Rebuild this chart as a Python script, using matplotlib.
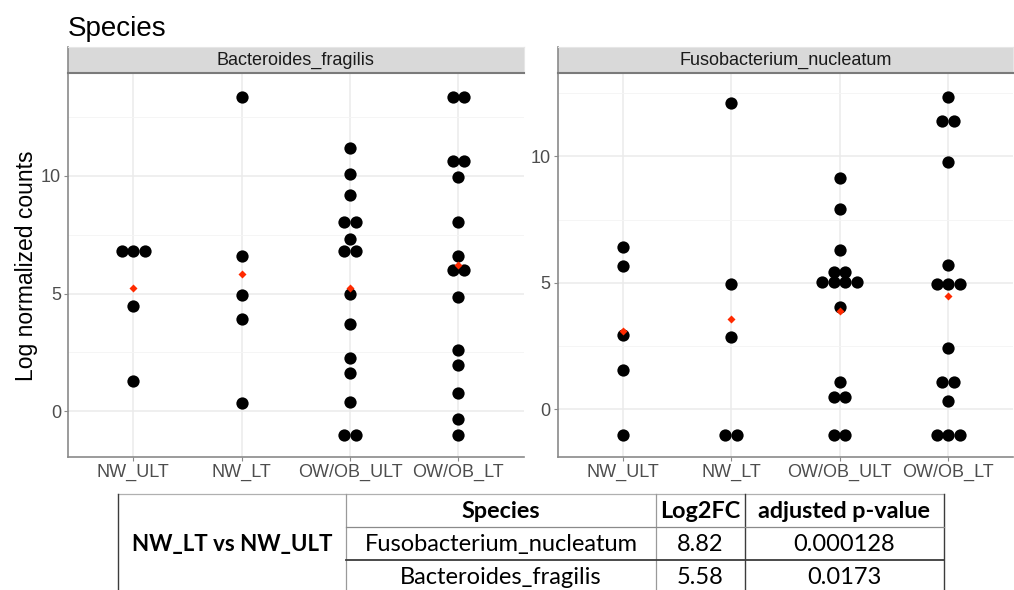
import numpy as np
import matplotlib.pyplot as plt
from matplotlib.lines import Line2D

plt.rcParams['font.family'] = ['Liberation Sans', 'DejaVu Sans']

groups = ['NW_ULT', 'NW_LT', 'OW/OB_ULT', 'OW/OB_LT']

# Bacteroides_fragilis, log normalized counts per sample
bf_nw_ult = [6.81, 6.81, 6.81, 4.48, 1.26]
bf_nw_lt = [13.35, 6.61, 4.95, 3.93, 0.33]
bf_ow_ult = [11.18, 10.10, 9.18, 8.03, 8.03, 7.32, 6.81, 6.81, 4.96, 3.69, 2.27, 1.63, 0.37, -1.02, -1.02]
bf_ow_lt = [13.35, 13.35, 10.65, 10.65, 9.96, 8.06, 6.60, 6.00, 6.00, 4.84, 2.60, 1.96, 0.78, -0.33, -1.02]

# Fusobacterium_nucleatum
fn_nw_ult = [6.40, 5.66, 2.92, 1.56, -1.02]
fn_nw_lt = [12.12, 4.96, 2.84, -1.02, -1.02]
fn_ow_ult = [9.14, 7.93, 6.31, 5.44, 5.44, 5.02, 5.02, 5.02, 5.02, 4.04, 1.06, 0.49, 0.49, -1.02, -1.02]
fn_ow_lt = [12.35, 11.41, 11.41, 9.76, 5.69, 4.96, 4.96, 4.96, 2.41, 1.07, 1.07, 0.33, -1.02, -1.02, -1.02]

panels = [
    ('Bacteroides_fragilis', [bf_nw_ult, bf_nw_lt, bf_ow_ult, bf_ow_lt], (-1.97, 14.37)),
    ('Fusobacterium_nucleatum', [fn_nw_ult, fn_nw_lt, fn_ow_ult, fn_ow_lt], (-1.90, 13.28)),
]

# table
tbl_comparison = 'NW_LT vs NW_ULT'
tbl_header = ['Species', 'Log2FC', 'adjusted p-value']
tbl_species = ['Fusobacterium_nucleatum', 'Bacteroides_fragilis']
tbl_log2fc = ['8.82', '5.58']
tbl_padj = ['0.000128', '0.0173']

W, H = 1014, 590
fig = plt.figure(figsize=(W / 100, H / 100), dpi=100)

axis_col = '#8a8a8a'
tick_col = '#4d4d4d'
grid_col = '#ebebeb'
dx = 0.106  # horizontal stacking step of dots (x units)

lefts = [68, 557.7]
pw = 455.5
ptop, pbot = 73.3, 457.3
strip_top = 47

for (name, data, ylim), left in zip(panels, lefts):
    ax = fig.add_axes([left / W, 1 - pbot / H, pw / W, (pbot - ptop) / H])
    ax.set_xlim(0.4, 4.6)
    ax.set_ylim(*ylim)
    ax.set_xticks(range(1, 5))
    ax.set_xticklabels(groups)
    ax.set_yticks([0, 5, 10])
    ax.set_yticks([2.5, 7.5, 12.5], minor=True)
    ax.grid(True, which='major', color=grid_col, lw=1.1)
    ax.grid(True, which='minor', axis='y', color='#f4f4f4', lw=0.6)
    ax.set_axisbelow(True)
    for s in ['top', 'right']:
        ax.spines[s].set_visible(False)
    for s in ['left', 'bottom']:
        ax.spines[s].set_color(axis_col)
        ax.spines[s].set_linewidth(1.2)
    ax.tick_params(which='major', length=3, color=axis_col, labelcolor=tick_col,
                   labelsize=13, pad=2)
    ax.tick_params(which='minor', length=0)

    for i, vals in enumerate(data):
        xc = i + 1
        uniq, counts = np.unique(vals, return_counts=True)
        for v, n in zip(uniq, counts):
            offs = (np.arange(n) - (n - 1) / 2) * dx
            ax.scatter(xc + offs, [v] * n, s=78, color='black', lw=0, zorder=3)
        ax.plot(xc, np.mean(vals), marker='D', ms=4.2, color='#ff2a00',
                mec='none', zorder=4)

    sax = fig.add_axes([left / W, 1 - ptop / H, pw / W, (ptop - strip_top) / H])
    sax.set_facecolor('#d9d9d9')
    sax.set_xticks([])
    sax.set_yticks([])
    for s in ['top', 'right']:
        sax.spines[s].set_color('#e6e6e6')
    sax.spines['left'].set_color(axis_col)
    sax.spines['left'].set_linewidth(1.2)
    sax.spines['bottom'].set_color('#7a7a7a')
    sax.spines['bottom'].set_linewidth(1.5)
    sax.text(0.5, 0.5, name, ha='center', va='center', fontsize=13,
             color='#1a1a1a', transform=sax.transAxes)

fig.text(68 / W, 1 - 36 / H, 'Species', fontsize=20, va='baseline', ha='left')
fig.text(27 / W, 1 - 266 / H, 'Log normalized counts', fontsize=16.5,
         rotation=90, ha='center', va='center')

# table overlay in pixel space
tax = fig.add_axes([0, 0, 1, 1], facecolor='none')
tax.set_xlim(0, W)
tax.set_ylim(H, 0)
tax.axis('off')

x0, x1, x2, x3, x4 = 118.3, 346, 656, 745, 944
y0, y1, y2, y3 = 494, 526.5, 560, 600
lc = '#3c3c3c'
segs = [
    ((x0, x4), (y0, y0), 0.9, '#b0b0b0'),
    ((x0, x0), (y0, y3), 1.0, lc),
    ((x1, x1), (y0, y3), 0.9, '#9a9a9a'),
    ((x2, x2), (y0, y3), 0.9, '#9a9a9a'),
    ((x3, x3), (y0, y3), 1.0, lc),
    ((x4, x4), (y0, y3), 1.0, lc),
    ((x1, x4), (y1, y1), 0.9, '#8a8a8a'),
    ((x1, x4), (y2, y2), 1.3, lc),
]
for xs, ys, lw, c in segs:
    tax.add_line(Line2D(xs, ys, lw=lw, color=c))

tfont = ['Lato', 'DejaVu Sans']
col_c = [(x1 + x2) / 2, (x2 + x3) / 2, (x3 + x4) / 2]
for c, h in zip(col_c, tbl_header):
    tax.text(c, (y0 + y1) / 2 + 1, h, ha='center', va='center', fontsize=16.8,
             fontweight='bold', family=tfont)
tax.text((x0 + x1) / 2, (y1 + y2) / 2 + 1, tbl_comparison, ha='center', va='center',
         fontsize=16, fontweight='bold', family=tfont)
row_y = [(y1 + y2) / 2 + 1, y2 + 18]
for ry, sp, fc, pv in zip(row_y, tbl_species, tbl_log2fc, tbl_padj):
    for c, t in zip(col_c, [sp, fc, pv]):
        tax.text(c, ry, t, ha='center', va='center', fontsize=17, family=tfont)

fig.savefig('out.png', dpi=100)
